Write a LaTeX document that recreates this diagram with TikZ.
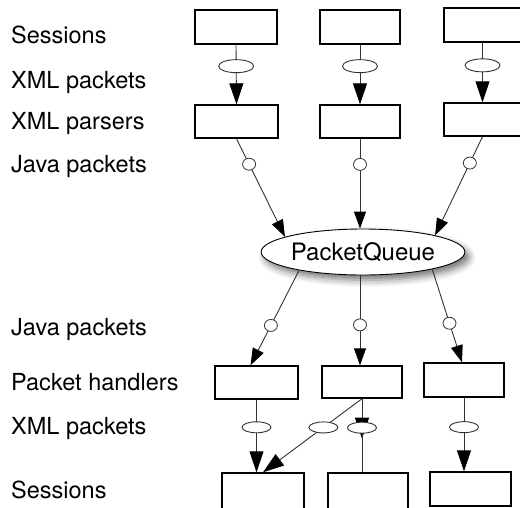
\documentclass[tikz,border=0pt]{standalone}
\usepackage{fontspec}
\setmainfont{TeX Gyre Heros}
\usetikzlibrary{arrows.meta,shapes.geometric,shadows.blur,calc}
\begin{document}
\begin{tikzpicture}[x=1pt,y=-1pt,
  box/.style={draw, line width=1.4pt, fill=white, inner sep=0pt},
  pkt/.style={ellipse, draw, line width=0.9pt, fill=white, inner sep=0pt, minimum width=35pt, minimum height=13pt},
  bpkt/.style={ellipse, draw, line width=0.9pt, fill=white, inner sep=0pt, minimum width=29pt, minimum height=11pt},
  jpkt/.style={ellipse, draw, line width=0.8pt, fill=white, inner sep=0pt, minimum width=13pt, minimum height=12pt},
  conn/.style={draw=black!80, line width=0.9pt},
  bigtip/.style={-{Triangle[width=14pt,length=21pt,color=black]}},
  midtip/.style={-{Triangle[width=12pt,length=17pt,color=black]}},
  lbl/.style={anchor=base west, font=\fontsize{23.5}{27}\selectfont, inner sep=0pt}
]
\useasboundingbox (0,0) rectangle (520,507);
\clip (0,0) rectangle (520,507);

% labels
\node[lbl] (l1) at (11,43) {Sessions};
\node[lbl] (l2) at (11,88) {XML packets};
\node[lbl] (l3) at (11,129) {XML parsers};
\node[lbl] (l4) at (11,172) {Java packets};
\node[lbl] (l5) at (11,335) {Java packets};
\node[lbl] (l6) at (11,390) {Packet handlers};
\node[lbl] (l7) at (11,434) {XML packets};
\node[lbl] (l8) at (11,498) {Sessions};

% sessions (top)
\node[box, minimum width=82pt, minimum height=34pt] (T1) at (236,27) {};
\node[box, minimum width=80pt, minimum height=34pt] (T2) at (360,27) {};
\node[box, minimum width=77pt, minimum height=34pt] (T3) at (482.5,25) {};
% parsers
\node[box, minimum width=83pt, minimum height=33pt] (P1) at (236.5,121.5) {};
\node[box, minimum width=80pt, minimum height=33pt] (P2) at (360,121.5) {};
\node[box, minimum width=77pt, minimum height=33pt] (P3) at (482.5,119.5) {};
% handlers
\node[box, minimum width=83pt, minimum height=33pt] (H1) at (256.5,382.5) {};
\node[box, minimum width=80pt, minimum height=32pt] (H2) at (362,382) {};
\node[box, minimum width=80pt, minimum height=34pt] (H3) at (464,380) {};
% sessions (bottom)
\node[box, minimum width=82pt, minimum height=38pt] (S1) at (263,492) {};
\node[box, minimum width=80pt, minimum height=38pt] (S2) at (368,492) {};
\node[box, minimum width=81pt, minimum height=34pt] (S3) at (470.5,489) {};

% queue
\node[ellipse, draw, line width=0.9pt, fill=white, inner sep=0pt,
      minimum width=170pt, minimum height=46pt,
      font=\fontsize{24}{27}\selectfont,
      blur shadow={shadow xshift=4pt, shadow yshift=-5pt, shadow blur radius=7pt, shadow opacity=55}]
      (PQ) at (363,252) {PacketQueue};

% sessions -> parsers
\draw[conn,bigtip] (T1.south) -- node[pkt,pos=0.36] (E1) {} (P1.north);
\draw[conn,bigtip] (T2.south) -- node[pkt,pos=0.36] (E2) {} (P2.north);
\draw[conn,bigtip] (T3.south) -- node[pkt,pos=0.38] (E3) {} (P3.north);

% parsers -> queue
\draw[conn,midtip] (P1.south) -- node[jpkt,pos=0.26] (J1) {} (PQ.169);
\draw[conn,midtip] (P2.south) -- node[jpkt,pos=0.286] (J2) {} (P2.south |- PQ.north);
\draw[conn,midtip] (P3.south) -- node[jpkt,pos=0.267] (J3) {} (PQ.13);

% queue -> handlers
\draw[conn,midtip] (PQ.196) -- node[jpkt,pos=0.58] (K1) {} ($(H1.north)+(-6,0)$);
\draw[conn,midtip] (P2.south |- PQ.south) -- node[jpkt,pos=0.55] (K2) {} (P2.south |- H2.north);
\draw[conn,midtip] (PQ.-14) -- node[jpkt,pos=0.58] (K3) {} ($(H3.north)+(-2,0)$);

% handlers -> sessions
\draw[conn,bigtip] (H1.south) -- node[bpkt,pos=0.38] (F1) {} (H1.south |- S1.north);
\draw[conn,bigtip] (H2.south) -- node[bpkt,pos=0.39] (F2) {} (S1.north);
\draw[conn,bigtip] (H2.south) -- node[bpkt,pos=0.725] (F3) {} ++(0,40);
\draw[conn] (H2.south |- S2.north) -- (F3.south);
\draw[conn,bigtip] (H3.south) -- node[bpkt,pos=0.40] (F4) {} (H3.south |- S3.north);
\end{tikzpicture}
\end{document}
